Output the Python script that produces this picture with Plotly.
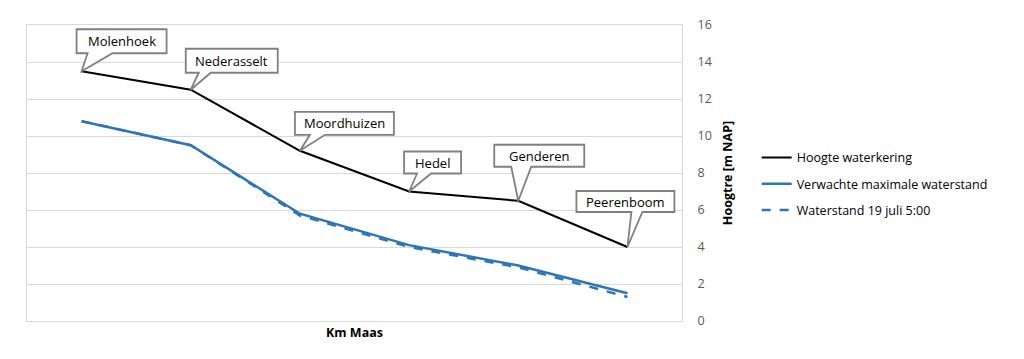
import plotly.graph_objects as go

locations = ["Molenhoek", "Nederasselt", "Moordhuizen", "Hedel", "Genderen", "Peerenboom"]
hoogte_waterkering = [13.5, 12.5, 9.2, 7.0, 6.5, 4.0]
verwachte_max = [10.8, 9.5, 5.8, 4.1, 3.0, 1.5]
waterstand_19juli = [10.8, 9.5, 5.7, 4.0, 2.9, 1.3]
y_ticks = [0, 2, 4, 6, 8, 10, 12, 14, 16]

# callout geometry in pixels relative to the labelled point: box left, right, bottom, top (up positive), wedge base left/right
callouts = [
    dict(bx0=-5, bx1=85, by0=18, by1=42, w0=6, w1=31),
    dict(bx0=-5, bx1=87, by0=17, by1=41, w0=8, w1=20),
    dict(bx0=-5, bx1=94, by0=16, by1=39, w0=10, w1=25),
    dict(bx0=-5, bx1=52, by0=18, by1=40, w0=8, w1=22),
    dict(bx0=-24, bx1=66, by0=34, by1=56, w0=-7, w1=13),
    dict(bx0=-51, bx1=47, by0=35, by1=56, w0=4, w1=15),
]

FONT = "Open Sans, Liberation Sans, sans-serif"
BLUE = "#2e75b6"

fig = go.Figure()
fig.add_trace(go.Scatter(x=locations, y=hoogte_waterkering, mode="lines", legendgroup="a",
                         name="Hoogte waterkering", line=dict(color="black", width=2)))
fig.add_trace(go.Scatter(x=locations, y=verwachte_max, mode="lines", legendgroup="b",
                         name="Verwachte maximale waterstand", line=dict(color=BLUE, width=2.5)))
fig.add_trace(go.Scatter(x=locations, y=waterstand_19juli, mode="lines", legendgroup="c",
                         name="Waterstand 19 juli 5:00", line=dict(color=BLUE, width=2.5, dash="dash")))

shapes = []
annotations = []
for loc, val, c in zip(locations, hoogte_waterkering, callouts):
    path = (f"M {c['bx0']},{c['by0']} L {c['w0']},{c['by0']} L 0,0 L {c['w1']},{c['by0']} "
            f"L {c['bx1']},{c['by0']} L {c['bx1']},{c['by1']} L {c['bx0']},{c['by1']} Z")
    shapes.append(dict(type="path", xref="x", yref="y", xsizemode="pixel", ysizemode="pixel",
                       xanchor=loc, yanchor=val, path=path, fillcolor="white",
                       line=dict(color="#808080", width=1.8), layer="above"))
    annotations.append(dict(x=loc, y=val, xref="x", yref="y", text=loc, showarrow=False,
                            xshift=(c['bx0'] + c['bx1']) / 2, yshift=(c['by0'] + c['by1']) / 2,
                            font=dict(family=FONT, size=13, color="black")))

fig.update_layout(
    width=1016, height=351,
    margin=dict(l=19, r=342, t=17, b=38, autoexpand=False),
    paper_bgcolor="white", plot_bgcolor="white",
    font=dict(family=FONT, size=13, color="black"),
    shapes=shapes, annotations=annotations,
    showlegend=True,
    legend=dict(x=1.114, xanchor="left", y=0.463, yanchor="middle",
                font=dict(family=FONT, size=12.5, color="black"),
                bgcolor="rgba(0,0,0,0)", itemwidth=30, tracegroupgap=7),
    xaxis=dict(range=[-0.5, 5.5], showticklabels=False, showgrid=False, zeroline=False,
               showline=True, linecolor="#d9d9d9", linewidth=1, mirror=True, ticks="",
               title=dict(text="<b>Km Maas</b>", font=dict(family=FONT, size=12.5, color="black"), standoff=7)),
    yaxis=dict(side="right", range=[0, 16], tickvals=y_ticks, showgrid=True, gridcolor="#d9d9d9",
               gridwidth=1, zeroline=False, showline=True, linecolor="#d9d9d9", linewidth=1, mirror=True,
               ticks="outside", ticklen=12, tickcolor="rgba(0,0,0,0)",
               tickfont=dict(family=FONT, size=12.5, color="#595959"),
               title=dict(text="<b>Hoogtre [m NAP]</b>", font=dict(family=FONT, size=12.5, color="black"), standoff=12)),
)

fig.write_html("out.html")
